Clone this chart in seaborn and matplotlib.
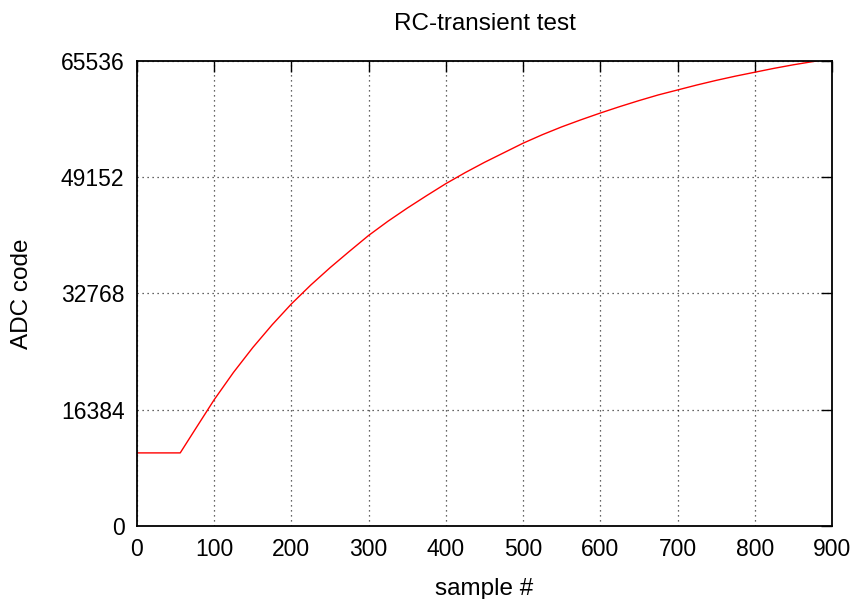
import matplotlib
matplotlib.use("Agg")
import matplotlib.pyplot as plt
import pandas as pd
import seaborn as sns

# values
samples = [0, 56, 75, 100, 125, 150, 175, 200, 225, 250, 275, 300, 325, 350,
           375, 400, 425, 450, 475, 500, 525, 550, 575, 600, 625, 650, 675,
           700, 725, 750, 775, 800, 825, 850, 880]
adc_code = [10300, 10300, 13550, 17800, 21650, 25150, 28350, 31300, 33950,
            36400, 38700, 40950, 42950, 44800, 46550, 48250, 49800, 51250,
            52600, 53950, 55150, 56250, 57250, 58200, 59100, 59950, 60750,
            61450, 62150, 62800, 63400, 63950, 64500, 65000, 65535]
x_ticks = [0, 100, 200, 300, 400, 500, 600, 700, 800, 900]
y_ticks = [0, 16384, 32768, 49152, 65536]

df = pd.DataFrame({"sample": samples, "adc": adc_code})

sns.set_style("white")
plt.rcParams["font.family"] = ["Liberation Sans", "DejaVu Sans"]

fig = plt.figure(figsize=(8.55, 5.99), dpi=100)
ax = fig.add_axes([0.1602, 0.1219, 0.9731 - 0.1602, 0.8982 - 0.1219])

sns.lineplot(data=df, x="sample", y="adc", color="red", linewidth=1.0, ax=ax)

ax.set_xlim(0, 900)
ax.set_ylim(0, 65536)
ax.set_xticks(x_ticks)
ax.set_yticks(y_ticks)
ax.tick_params(direction="in", length=8, width=1, top=True, right=True,
               labelsize=16.5, pad=9, colors="black")
ax.grid(True, linestyle=(0, (1, 3)), color="black", linewidth=0.9, alpha=0.8)
for s in ax.spines.values():
    s.set_color("black")
    s.set_linewidth(1.3)

ax.set_xlabel("sample #", fontsize=17.5, labelpad=12, color="black")
ax.set_ylabel("ADC code", fontsize=17.5, labelpad=20, color="black")
ax.set_title("RC-transient test", fontsize=17.5, pad=22, color="black")

fig.savefig("out.png", dpi=100)
